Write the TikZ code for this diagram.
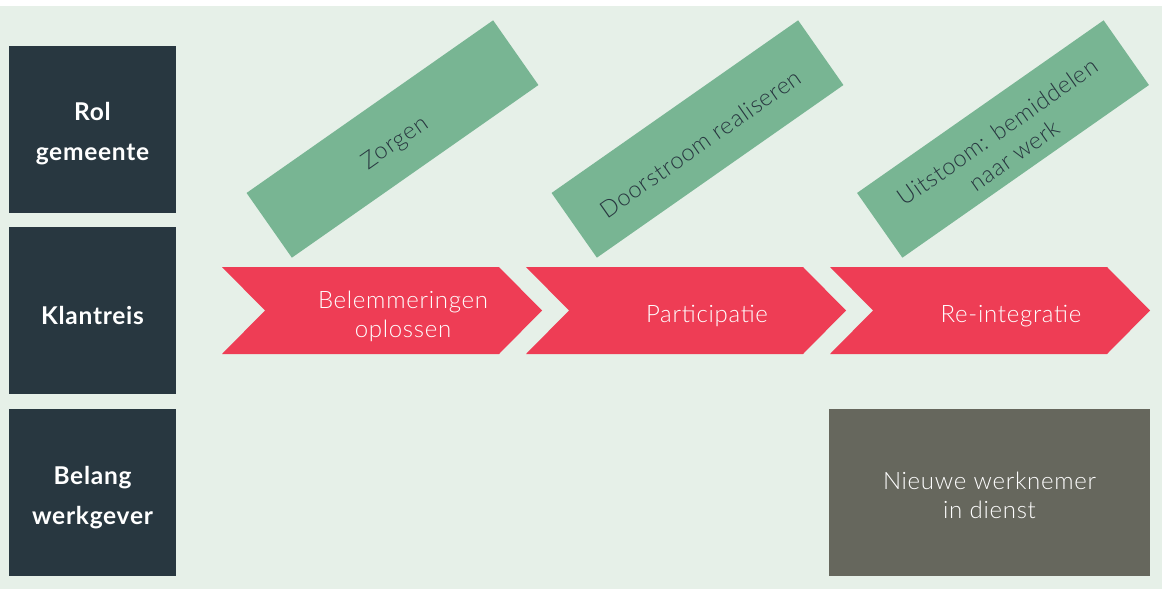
\documentclass[tikz,border=0pt]{standalone}
\usepackage{fontspec}
\setmainfont{Lato}[LetterSpace=3]
\newfontfamily\lightfont{Lato Light}[LetterSpace=3]
\definecolor{paleGreen}{HTML}{E6F0E8}
\definecolor{slateDark}{HTML}{283740}
\definecolor{sageGreen}{HTML}{78B593}
\definecolor{signalRed}{HTML}{EE3D55}
\definecolor{olivGrey}{HTML}{66675D}
\tikzset{
  rowbox/.style={fill=slateDark, inner sep=0pt,
    minimum width=167pt, minimum height=167pt},
  rowtext/.style={text=white, align=center,
    font=\bfseries\fontsize{24.5}{40}\selectfont},
  rolbalk/.style={fill=sageGreen, inner sep=0pt,
    minimum width=301pt, minimum height=79pt, rotate=35},
  roltekst/.style={text=slateDark, align=center, rotate=35,
    font=\lightfont\fontsize{23.5}{29}\selectfont},
  staptekst/.style={text=white, align=center,
    font=\lightfont\fontsize{24}{29}\selectfont}
}
\begin{document}
\begin{tikzpicture}[x=1pt, y=-1pt]
\useasboundingbox (0,0) rectangle (1162,589);
\fill[white] (0,0) rectangle (1162,589);
\fill[paleGreen] (0,6) rectangle (1162,589);

% rijen
\node[rowbox] (rol) at (92.5,129.5) {};
\node[rowbox] (klantreis) at (92.5,310.5) {};
\node[rowbox] (belang) at (92.5,492.5) {};
\node[rowtext] (rolTxt) at ([yshift=-4.5pt]rol.center) {Rol\\gemeente};
\node[rowtext] (klantreisTxt) at ([yshift=-4.5pt]klantreis.center) {Klantreis};
\node[rowtext] (belangTxt) at ([yshift=-5pt]belang.center) {Belang\\werkgever};

% rol gemeente
\node[rolbalk] (zorgen) at (392.5,139) {};
\node[rolbalk] (doorstroom) at (697.5,139) {};
\node[rolbalk] (uitstroom) at (1003,139) {};
\node[roltekst] (zorgenTxt) at ([xshift=3pt,yshift=-4.5pt]zorgen.center) {Zorgen};
\node[roltekst] (doorstroomTxt) at ([xshift=3pt,yshift=-4.5pt]doorstroom.center)
  {Doorstroom realiseren};
\node[roltekst] (uitstroomTxt) at ([xshift=3pt,yshift=-4.5pt]uitstroom.center)
  {Uitstoom: bemiddelen\\naar werk};

% klantreis
\foreach \x/\naam/\tekst in {222/belemmering/{Belemmeringen\\oplossen},
                            526/participatie/{Participatie},
                            830/reintegratie/{Re-integratie}}{
  \fill[signalRed] (\x,267) -- (\x+277,267) -- (\x+320,310.5) -- (\x+277,354)
    -- (\x,354) -- (\x+43,310.5) -- cycle;
  \node[staptekst] (\naam) at (\x+181,316) {\tekst};
}

% belang werkgever
\node[fill=olivGrey, minimum width=321pt, minimum height=167pt,
  inner sep=0pt] (werknemer) at (989.5,492.5) {};
\node[staptekst] (werknemerTxt) at ([yshift=-3pt]werknemer.center)
  {Nieuwe werknemer\\in dienst};

\end{tikzpicture}
\end{document}
